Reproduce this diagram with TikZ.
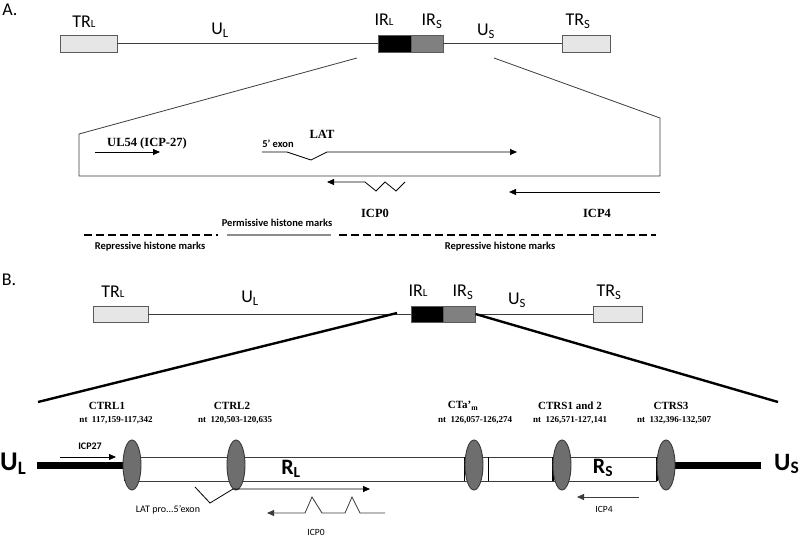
\documentclass[tikz,border=0pt]{standalone}
\usepackage{fontspec}
\setmainfont{Liberation Serif}
\setsansfont{Carlito}
\usepackage{tikz}
\usetikzlibrary{arrows.meta,shapes.geometric}

\definecolor{linegray}{HTML}{3C3C3C}
\definecolor{trfill}{HTML}{E6E6E6}
\definecolor{boxedge}{HTML}{5A5A5A}
\definecolor{irsgray}{HTML}{808080}
\definecolor{ovalfill}{HTML}{6E6E6E}
\definecolor{ovaledge}{HTML}{3A3A3A}
\definecolor{permgray}{HTML}{8C8C8C}

\newcommand{\lowL}[1]{{\fontsize{11}{11}\selectfont #1}}

\tikzset{
  segbox/.style={draw=boxedge, line width=0.9pt, minimum height=17pt, inner sep=0pt},
  genome/.style={draw=linegray, line width=0.8pt},
  gene/.style={line width=0.8pt, -{Triangle[length=7pt,width=6pt]}},
  bgene/.style={draw=linegray, line width=0.8pt, -{Triangle[length=7pt,width=6pt]}},
  toplbl/.style={font=\sffamily\fontsize{18}{18}\selectfont, inner sep=0pt},
  genelbl/.style={font=\bfseries\fontsize{12.5}{13}\selectfont, inner sep=0pt},
  smalllbl/.style={font=\sffamily\bfseries\fontsize{10.5}{11}\selectfont, inner sep=0pt},
  ctlbl/.style={font=\bfseries\fontsize{11}{11}\selectfont, inner sep=0pt},
  ntlbl/.style={font=\bfseries\fontsize{9}{10}\selectfont, inner sep=0pt},
  repmark/.style={line width=2.6pt, dash pattern=on 8pt off 4pt},
  permmark/.style={line width=2.6pt, draw=permgray},
  oval/.style={ellipse, draw=ovaledge, fill=ovalfill, line width=0.9pt, minimum width=18pt, minimum height=50pt, inner sep=0pt}
}

\begin{document}
\begin{tikzpicture}[x=1pt,y=-1pt]
\useasboundingbox (0,0) rectangle (800,537);

\node[toplbl] (tagA) at (10,10) {A.};
\node[segbox, fill=trfill, minimum width=57pt] (trlA) at (88.5,43.5) {};
\node[segbox, fill=black, minimum width=33pt] (irlA) at (394.5,43.5) {};
\node[segbox, fill=irsgray, minimum width=32pt] (irsA) at (427,43.5) {};
\node[segbox, fill=trfill, minimum width=48pt] (trsA) at (586,43.5) {};
\draw[genome] (trlA.east) -- (irlA.west);
\draw[genome] (irsA.east) -- (trsA.west);
\node[toplbl] (trlAl) at (84,22) {TR\lowL{L}};
\node[toplbl] (ulA) at (220,30) {U\textsubscript{L}};
\node[toplbl] (irlAl) at (384,20) {IR\lowL{L}};
\node[toplbl] (irsAl) at (432,21) {IR\textsubscript{S}};
\node[toplbl] (usA) at (486,31) {U\textsubscript{S}};
\node[toplbl] (trsAl) at (578,21) {TR\textsubscript{S}};

\coordinate (zoomAl) at (357,58);
\coordinate (zoomAr) at (494,58);
\draw[genome] (zoomAl) -- (79,134) |- (660,176) -- (660,118) -- (zoomAr);

\node[genelbl] (ul54) at (147,143) {UL54 (ICP-27)};
\draw[gene] (95,152) -- (160,152);
\node[smalllbl] (exonA) at (278,144) {5’ exon};
\node[genelbl] (latA) at (322,134) {LAT};
\draw[gene] (262,152) -- (287,152) -- (311,160) -- (327,152) -- (517,152);
\draw[gene] (405,182) -- (396,191) -- (385,182) -- (376,191) -- (365,182) -- (327,182);
\node[genelbl] (icp0A) at (375,213) {ICP0};
\draw[gene] (660,192) -- (509,192);
\node[genelbl] (icp4A) at (597,213) {ICP4};

\draw[repmark] (84,235) -- (218,235);
\draw[permmark] (227,235) -- (331,235);
\draw[repmark] (339,235) -- (656,235);
\node[smalllbl] (permA) at (277,223) {Permissive histone marks};
\node[smalllbl] (rep1A) at (150,247) {Repressive histone marks};
\node[smalllbl] (rep2A) at (500,247) {Repressive histone marks};

\node[toplbl] (tagB) at (9,280) {B.};
\node[segbox, fill=trfill, minimum width=55pt, minimum height=16pt] (trlB) at (120.5,314) {};
\node[segbox, fill=black, minimum width=32pt, minimum height=16pt] (irlB) at (427,314) {};
\node[segbox, fill=irsgray, minimum width=32pt, minimum height=16pt] (irsB) at (459,314) {};
\node[segbox, fill=trfill, minimum width=49pt, minimum height=16pt] (trsB) at (617.5,314) {};
\draw[genome] (trlB.east) -- (irlB.west);
\draw[genome] (irsB.east) -- (trsB.west);
\node[toplbl] (trlBl) at (113,292) {TR\lowL{L}};
\node[toplbl] (ulB) at (250,298) {U\textsubscript{L}};
\node[toplbl] (irlBl) at (418,291) {IR\lowL{L}};
\node[toplbl] (irsBl) at (463,292) {IR\textsubscript{S}};
\node[toplbl] (usB) at (517,300) {U\textsubscript{S}};
\node[toplbl] (trsBl) at (609,292) {TR\textsubscript{S}};

\coordinate (zoomBl) at (397,313);
\coordinate (endBl) at (38,402);
\coordinate (endBr) at (778,402);
\draw[line width=2.4pt] (zoomBl) -- (endBl);
\draw[line width=2.4pt] (irsB.east) -- (endBr);

\draw[line width=7pt] (37,465) -- (125,465);
\draw[line width=7pt] (657,465) -- (761,465);
\draw[genome] (125,457) -- (657,457);
\draw[genome] (125,481) -- (657,481);
\draw[line width=2pt] (125,457) -- (125,481);
\draw[line width=0.8pt] (464,457) -- (464,481);
\draw[line width=0.8pt] (488,457) -- (488,481);
\draw[line width=2pt] (553,457) -- (553,481);
\draw[line width=2pt] (657,457) -- (657,481);
\foreach \x/\n in {132/ctrl1, 236/ctrl2, 474/cta, 562/ctrs12, 666/ctrs3}
  \node[oval] (\n) at (\x,465) {};

\node[font=\sffamily\bfseries\fontsize{27}{27}\selectfont, inner sep=0pt, anchor=west] (ulRow) at (0,464) {U\textsubscript{L}};
\node[font=\sffamily\bfseries\fontsize{25}{25}\selectfont, inner sep=0pt, anchor=east] (usRow) at (799.5,464) {U\textsubscript{S}};
\node[font=\sffamily\bfseries\fontsize{22}{22}\selectfont, inner sep=0pt] (rl) at (291,469) {R\textsubscript{L}};
\node[font=\sffamily\bfseries\fontsize{22}{22}\selectfont, inner sep=0pt] (rs) at (603,468) {R\textsubscript{S}};

\node[smalllbl, font=\sffamily\bfseries\fontsize{10}{10}\selectfont] (icp27B) at (90,446) {ICP27};
\draw[gene] (60,457) -- (116,457);
\draw[gene] (195,487) -- (210,503) -- (233,489) -- (370,489);
\node[smalllbl, font=\sffamily\fontsize{10}{10}\selectfont] (latB) at (168,510) {LAT pro...5’exon};
\draw[bgene] (385,513) -- (360,513) -- (352,497) -- (345,513) -- (322,513) -- (312,497) -- (305,513) -- (267,513);
\node[smalllbl, font=\sffamily\fontsize{9.5}{10}\selectfont] (icp0B) at (316,532) {ICP0};
\draw[bgene] (639,497) -- (577,497);
\node[smalllbl, font=\sffamily\fontsize{9.5}{10}\selectfont] (icp4B) at (604,509) {ICP4};

\node[ctlbl] (ctrl1l) at (107,406) {CTRL1};
\node[ntlbl] (ctrl1n) at (116,420) {nt\ \ 117,159-117,342};
\node[ctlbl] (ctrl2l) at (232,406) {CTRL2};
\node[ntlbl] (ctrl2n) at (235,420) {nt\ \ 120,503-120,635};
\node[ctlbl] (ctal) at (463,406) {CTa’\textsubscript{m}};
\node[ntlbl] (ctan) at (475,420) {nt\ \ 126,057-126,274};
\node[ctlbl] (ctrs12l) at (570,406) {CTRS1 and 2};
\node[ntlbl] (ctrs12n) at (570,420) {nt\ \ 126,571-127,141};
\node[ctlbl] (ctrs3l) at (671,406) {CTRS3};
\node[ntlbl] (ctrs3n) at (674,420) {nt\ \ 132,396-132,507};
\end{tikzpicture}
\end{document}
